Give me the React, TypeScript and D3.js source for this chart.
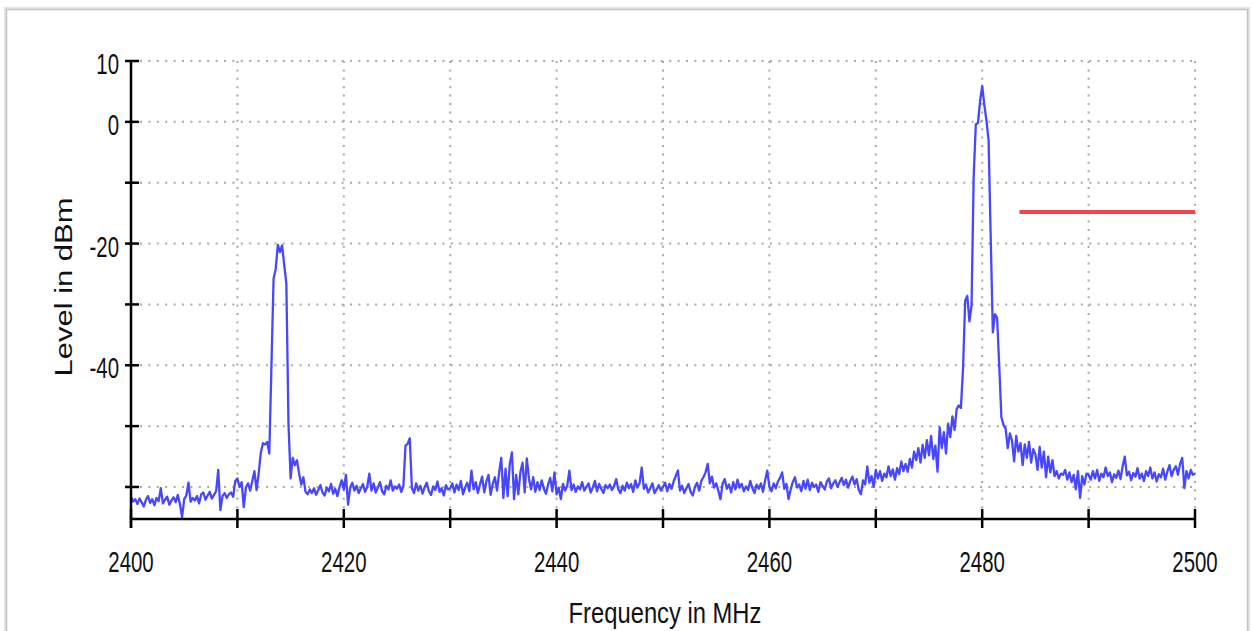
import React from "react";
import * as d3 from "d3";

// Sweep: 2400.0 .. 2500.0 MHz in 0.2 MHz steps (501 points)
const SWEEP_START = 2400;
const SWEEP_STEP = 0.2;

const levels: number[] = [
  // 2400.0 - 2404.8
  -61.6, -62.4, -62.0, -62.8, -61.9, -62.5, -63.2, -62.1, -61.5, -62.6, -62.0, -63.0, -61.8, -62.3, -60.2, -62.7, -62.1, -61.6, -62.9, -62.2, -61.7, -62.5, -61.3, -62.8, -65.0,
  // 2405.0 - 2409.8
  -62.0, -61.4, -59.3, -62.4, -61.8, -62.2, -61.5, -62.7, -61.2, -60.9, -62.1, -61.4, -60.8, -61.9, -61.3, -60.7, -57.2, -63.8, -61.5, -61.0, -61.8, -61.2, -60.9, -61.6, -59.0,
  // 2410.0 - 2414.8
  -58.6, -60.0, -59.2, -63.3, -60.1, -59.4, -60.6, -59.0, -57.4, -60.5, -57.8, -54.4, -52.8, -53.0, -52.6, -54.5, -40.0, -25.8, -24.2, -20.2, -21.4, -20.3, -23.5, -26.5, -49.5,
  // 2415.0 - 2419.8
  -58.6, -55.2, -56.4, -55.6, -57.8, -59.6, -58.4, -60.8, -61.2, -60.4, -61.0, -60.2, -61.3, -60.5, -59.7, -60.9, -61.4, -60.1, -60.7, -59.5, -61.1, -60.3, -61.5, -60.0, -58.9,
  // 2420.0 - 2424.8
  -60.4, -58.0, -62.9, -60.1, -59.3, -60.6, -59.8, -61.0, -60.2, -59.5, -60.8, -60.0, -57.8, -60.6, -59.4, -60.9, -60.1, -59.2, -60.7, -61.2, -59.8, -60.4, -58.9, -60.6, -59.9,
  // 2425.0 - 2429.8
  -60.3, -59.6, -60.8, -59.9, -53.2, -52.9, -52.0, -60.2, -61.0, -59.4, -60.6, -59.8, -61.1, -60.0, -59.3, -60.7, -61.3, -59.9, -60.5, -59.1, -60.8, -60.2, -61.4, -59.7, -60.4,
  // 2430.0 - 2434.8
  -60.2, -59.4, -60.9, -59.6, -60.5, -59.0, -61.2, -60.1, -59.3, -60.7, -57.3, -60.4, -59.2, -61.0, -59.6, -58.3, -60.9, -59.1, -58.0, -61.3, -59.5, -58.4, -60.6, -57.6, -55.2,
  // 2435.0 - 2439.8
  -61.8, -57.0, -61.5, -56.2, -54.3, -62.0, -58.0, -61.2, -57.5, -56.0, -60.9, -55.3, -58.6, -60.4, -58.4, -60.8, -59.2, -60.5, -58.9, -60.3, -61.1, -59.6, -58.5, -60.7, -57.6,
  // 2440.0 - 2444.8
  -61.2, -60.1, -62.0, -59.5, -60.6, -59.8, -57.3, -60.5, -59.6, -60.8, -59.9, -60.4, -59.2, -60.6, -60.0, -59.4, -60.9, -60.1, -59.0, -60.7, -59.5, -60.3, -61.0, -59.7, -60.2,
  // 2445.0 - 2449.8
  -59.6, -60.5, -59.9, -58.7, -60.4, -61.0, -59.8, -60.6, -59.3, -60.2, -59.5, -60.8, -58.9, -60.1, -59.4, -56.8, -60.3, -59.6, -60.9, -60.2, -59.4, -61.0, -60.4, -59.7, -60.6,
  // 2450.0 - 2454.8
  -60.0, -59.3, -60.7, -59.5, -60.3, -59.1, -58.2, -57.3, -60.6, -59.8, -61.0, -60.2, -59.5, -60.8, -61.4, -60.0, -59.3, -60.6, -59.0, -58.4, -57.6, -56.2, -59.4, -58.3, -60.1,
  // 2455.0 - 2459.8
  -59.4, -60.6, -62.0, -59.5, -58.7, -60.3, -59.6, -60.9, -59.2, -60.4, -58.8, -60.1, -59.5, -60.7, -59.9, -60.5, -59.0, -60.2, -61.0, -59.6, -60.3, -59.4, -60.8, -58.9, -57.3,
  // 2460.0 - 2464.8
  -60.0, -60.7, -59.4, -60.2, -59.1, -58.5, -57.6, -60.3, -59.5, -62.0, -60.4, -59.2, -58.4, -60.1, -59.6, -60.7, -59.0, -60.3, -58.8, -60.5, -59.3, -60.0, -59.6, -60.8, -59.2,
  // 2465.0 - 2469.8
  -59.8, -60.4, -59.1, -58.6, -60.2, -59.4, -58.9, -60.0, -59.2, -58.5, -59.7, -58.8, -60.1, -59.0, -58.3, -59.6, -58.7, -60.5, -61.2, -58.9, -59.6, -56.6, -59.3, -58.2, -60.0,
  // 2470.0 - 2474.8
  -57.2, -58.6, -57.4, -59.0, -57.8, -58.4, -56.6, -58.2, -57.1, -58.8, -56.9, -57.9, -55.8, -57.4, -56.2, -57.5, -55.4, -56.8, -54.2, -55.6, -53.6, -56.0, -53.1, -55.2, -52.3,
  // 2475.0 - 2479.8
  -54.8, -51.6, -55.4, -53.2, -57.5, -50.2, -53.6, -51.0, -54.5, -49.6, -51.8, -48.4, -50.6, -47.2, -46.6, -47.0, -40.5, -29.4, -28.6, -32.8, -30.1, -9.0, -0.4, -0.2, 3.4,
  // 2480.0 - 2484.8
  5.9, 2.8, 0.2, -3.0, -19.0, -34.6, -31.6, -32.2, -40.0, -48.5, -49.8, -50.4, -53.6, -51.2, -52.4, -55.8, -51.6, -54.2, -52.8, -56.4, -53.0, -55.2, -52.6, -56.0, -53.8,
  // 2485.0 - 2489.8
  -54.6, -57.2, -53.4, -56.8, -54.2, -58.4, -55.0, -57.6, -55.6, -58.2, -57.4, -58.6, -57.8, -58.0, -57.2, -58.8, -57.6, -59.2, -58.0, -60.4, -57.4, -61.8, -58.2, -59.6, -57.8,
  // 2490.0 - 2494.8
  -58.0, -58.8, -57.4, -58.6, -57.2, -59.0, -57.8, -58.4, -56.8, -58.2, -57.6, -59.2, -57.9, -58.5, -57.3, -58.7, -56.6, -55.0, -58.1, -57.5, -58.9, -57.7, -58.3, -56.9, -58.6,
  // 2495.0 - 2499.8
  -57.8, -59.0, -57.4, -58.2, -56.8, -58.6, -57.6, -59.1, -57.9, -58.4, -57.0, -58.8, -57.5, -56.4, -58.2, -57.2, -56.6, -58.0, -56.2, -55.2, -60.2, -57.4, -58.6, -57.2, -58.0,
  // 2500.0
  -57.8,
];

// Limit line (red)
const limitFreqs = [2483.5, 2500];
const limitLevel = -14.8;

const xTicks = [2400, 2410, 2420, 2430, 2440, 2450, 2460, 2470, 2480, 2490, 2500];
const xTickLabels = [2400, 2420, 2440, 2460, 2480, 2500];
const yTicks = [10, 0, -10, -20, -30, -40, -50, -60];
const yTickLabels = [10, 0, -20, -40];

const xTitle = "Frequency in MHz";
const yTitle = "Level in dBm";

const W = 1252;
const H = 631;
const FONT = "'Liberation Sans', Arial, sans-serif";

export default function App() {
  const x = d3.scaleLinear().domain([2400, 2500]).range([131, 1195]);
  const y = d3.scaleLinear().domain([-65.26, 10]).range([519, 61]);

  const pts: [number, number][] = levels.map((v, i) => [SWEEP_START + i * SWEEP_STEP, v]);
  const line = d3
    .line<[number, number]>()
    .x((d) => x(d[0]))
    .y((d) => y(d[1]));

  const x0 = x(2400);
  const x1 = x(2500);
  const yTop = y(10);
  const yBot = y.range()[0];

  return (
    <svg
      width={W}
      height={H}
      style={{ position: "absolute", left: 0, top: 0, background: "#fff" }}
    >
      {/* outer frame */}
      <rect x={5} y={8} width={1244} height={H} fill="none" stroke="#e4e4e4" strokeWidth={2} />
      <rect x={6.5} y={9.5} width={1241} height={H} fill="#fff" stroke="#c4c4c4" strokeWidth={1.5} />

      {/* grid */}
      <g stroke="#a8a8a8" strokeWidth={2} strokeDasharray="2,6.4" fill="none">
        {yTicks.map((t) => (
          <line key={"gy" + t} x1={x0 + 9} x2={x1} y1={y(t)} y2={y(t)} />
        ))}
        {xTicks
          .filter((t) => t !== 2400)
          .map((t) => (
            <line key={"gx" + t} x1={x(t)} x2={x(t)} y1={yTop} y2={yBot - 10} />
          ))}
      </g>

      {/* spectrum trace */}
      <path d={line(pts) || ""} fill="none" stroke="#4747ff" strokeWidth={2.3} strokeLinejoin="round" />

      {/* limit line */}
      <line
        x1={x(limitFreqs[0])}
        x2={x(limitFreqs[1])}
        y1={y(limitLevel)}
        y2={y(limitLevel)}
        stroke="#f24646"
        strokeWidth={4}
      />

      {/* axes */}
      <g stroke="#000" strokeWidth={2.5}>
        <line x1={x0} x2={x0} y1={yTop} y2={yBot + 9} />
        <line x1={x0} x2={x1} y1={yBot} y2={yBot} />
        {yTicks.map((t) => (
          <line key={"ty" + t} x1={x0 - 6} x2={x0 + 8} y1={y(t)} y2={y(t)} />
        ))}
        {xTicks.map((t) => (
          <line key={"tx" + t} x1={x(t)} x2={x(t)} y1={yBot - 10} y2={yBot + 9} />
        ))}
      </g>

      {/* tick labels */}
      <g fontFamily={FONT} fontSize={30} fill="#111">
        {yTickLabels.map((t) => (
          <text key={"ly" + t} transform={`translate(119,${y(t) + 13}) scale(0.68,1)`} textAnchor="end">
            {t}
          </text>
        ))}
        {xTickLabels.map((t) => (
          <text key={"lx" + t} transform={`translate(${x(t)},572) scale(0.68,1)`} textAnchor="middle">
            {t}
          </text>
        ))}
      </g>

      {/* axis titles */}
      <text
        transform="translate(665,623) scale(0.82,1)"
        textAnchor="middle"
        fontFamily={FONT}
        fontSize={29}
        fill="#111"
      >
        {xTitle}
      </text>
      <text
        transform="translate(72,287) scale(0.78,1) rotate(-90)"
        textAnchor="middle"
        fontFamily={FONT}
        fontSize={31}
        fill="#111"
      >
        {yTitle}
      </text>
    </svg>
  );
}
